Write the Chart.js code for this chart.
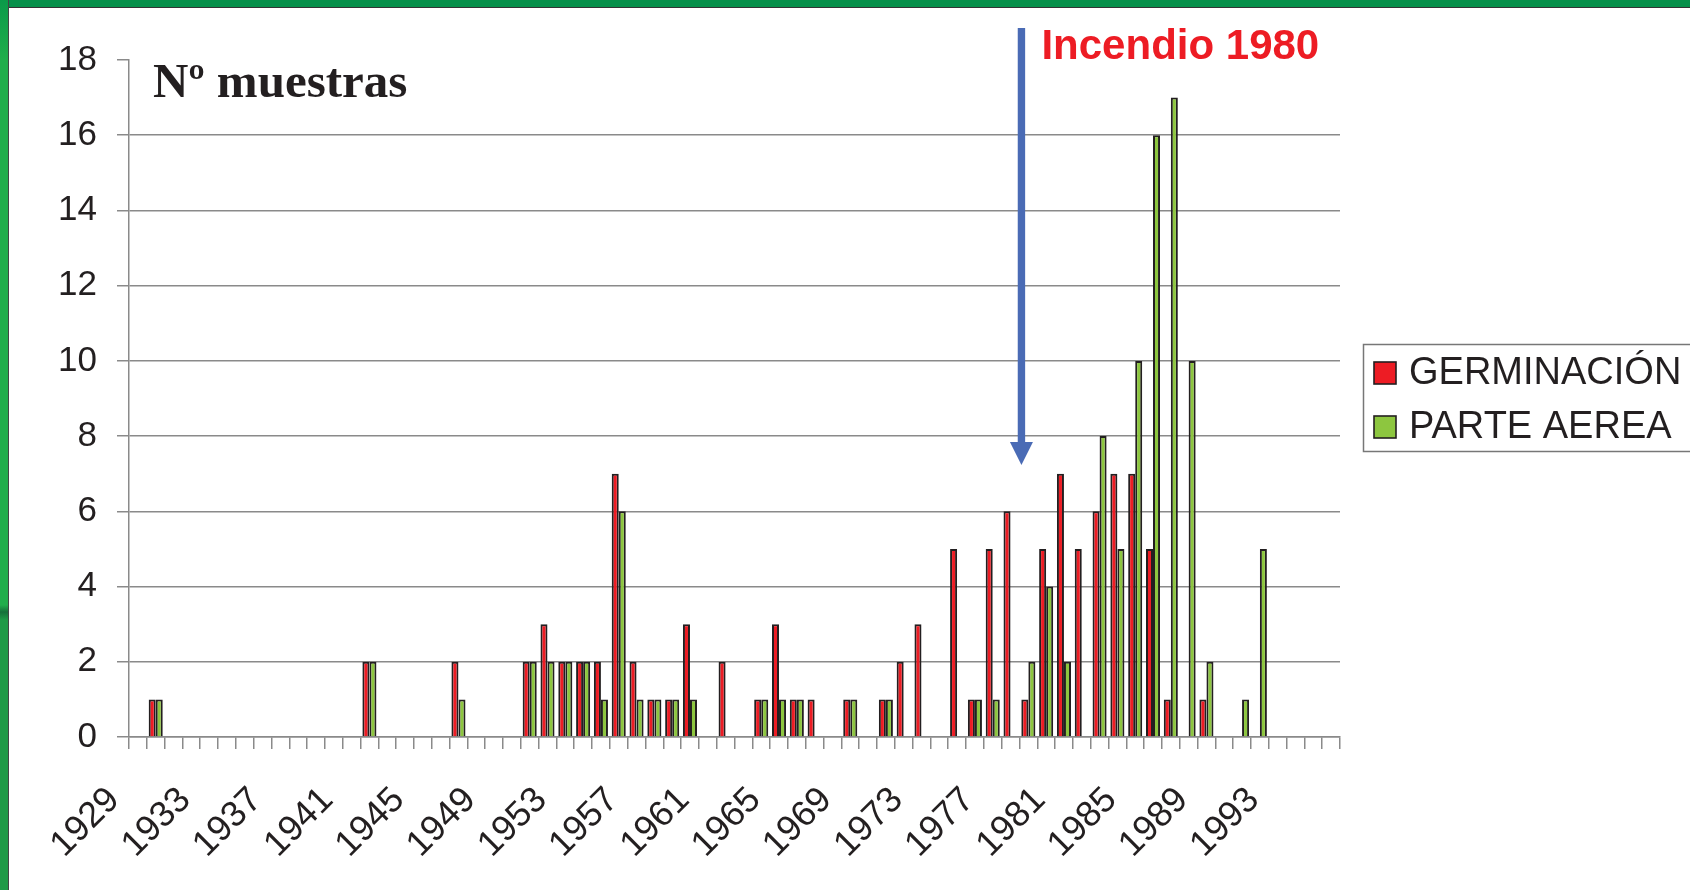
<!DOCTYPE html>
<html lang="es">
<head>
    <meta charset="UTF-8">
    <title>Nº muestras</title>
    <script src="https://cdn.jsdelivr.net/npm/chart.js@4.4.1/dist/chart.umd.min.js"></script>
    <style>
        html, body { margin: 0; padding: 0; background: #fff; }
        #wrap { position: relative; width: 1690px; height: 890px; overflow: hidden; background: #fff; }
        #topband { position: absolute; left: 0; top: 0; width: 1690px; height: 7px; background: #06904a; border-bottom: 1px solid #333; }
        #leftband { position: absolute; left: 0; top: 0; width: 8px; height: 890px; border-right: 1px solid #444;
            background: linear-gradient(to bottom, #0b9a49 0px, #21ae4b 60px, #21ae4b 605px, #16703a 612px, #1f9a46 620px, #1f9a46 890px); }
        #chart { position: absolute; left: 0; top: 0; }
    </style>
</head>
<body>
<div id="wrap">
    <div id="topband"></div>
    <div id="leftband"></div>
    <canvas id="chart" width="1690" height="890"></canvas>
</div>
<script>
    // years on the category axis (every 4th one is labelled)
    const years = [1929, 1930, 1931, 1932, 1933, 1934, 1935, 1936, 1937, 1938,
        1939, 1940, 1941, 1942, 1943, 1944, 1945, 1946, 1947, 1948,
        1949, 1950, 1951, 1952, 1953, 1954, 1955, 1956, 1957, 1958,
        1959, 1960, 1961, 1962, 1963, 1964, 1965, 1966, 1967, 1968,
        1969, 1970, 1971, 1972, 1973, 1974, 1975, 1976, 1977, 1978,
        1979, 1980, 1981, 1982, 1983, 1984, 1985, 1986, 1987, 1988,
        1989, 1990, 1991, 1992, 1993, 1994, 1995, 1996];

    const germinacion = [0, 1, 0, 0, 0, 0, 0, 0, 0, 0,
        0, 0, 0, 2, 0, 0, 0, 0, 2, 0,
        0, 0, 2, 3, 2, 2, 2, 7, 2, 1,
        1, 3, 0, 2, 0, 1, 3, 1, 1, 0,
        1, 0, 1, 2, 3, 0, 5, 1, 5, 6,
        1, 5, 7, 5, 6, 7, 7, 5, 1, 0,
        1, 0, 0, 0, 0, 0, 0, 0];

    const parteAerea = [0, 1, 0, 0, 0, 0, 0, 0, 0, 0,
        0, 0, 0, 2, 0, 0, 0, 0, 1, 0,
        0, 0, 2, 2, 2, 2, 1, 6, 1, 1,
        1, 1, 0, 0, 0, 1, 1, 1, 0, 0,
        1, 0, 1, 0, 0, 0, 0, 1, 1, 0,
        2, 4, 2, 0, 8, 5, 10, 16, 17, 10,
        2, 0, 1, 5, 0, 0, 0, 0];

    const yTicks = [0, 2, 4, 6, 8, 10, 12, 14, 16, 18];
    const fireYear = 1980;

    const RED = '#ed1c24';
    const GREEN = '#8dc63f';
    const INK = '#231f20';
    const GRID = '#8a8a8a';

    Chart.defaults.font.family = '"Liberation Sans", Arial, sans-serif';
    Chart.defaults.color = INK;

    // titles, arrow and the boxed legend drawn on top of the chart
    const extras = {
        id: 'extras',
        afterDraw(chart) {
            const ctx = chart.ctx;
            const xs = chart.scales.x;
            const step = (xs.right - xs.left) / years.length;
            ctx.save();

            ctx.fillStyle = INK;
            ctx.font = 'bold 49px "Liberation Serif", "Times New Roman", serif';
            ctx.textBaseline = 'alphabetic';
            ctx.fillText('Nº muestras', 153, 97);

            // arrow marking the fire
            const ax = xs.left + years.indexOf(fireYear - 1) * step + 2;
            ctx.fillStyle = '#4a6bb5';
            ctx.fillRect(ax - 3.7, 28, 7.4, 415);
            ctx.beginPath();
            ctx.moveTo(ax - 11.5, 442);
            ctx.lineTo(ax + 11.5, 442);
            ctx.lineTo(ax, 465);
            ctx.closePath();
            ctx.fill();

            ctx.fillStyle = RED;
            ctx.font = 'bold 42px "Liberation Sans", Arial, sans-serif';
            ctx.fillText('Incendio ' + fireYear, ax + 20, 59);

            // legend
            ctx.strokeStyle = '#777';
            ctx.lineWidth = 1.5;
            ctx.strokeRect(1363.5, 344.5, 400, 107);
            ctx.font = '38px "Liberation Sans", Arial, sans-serif';
            ctx.textBaseline = 'middle';
            chart.data.datasets.forEach((ds, i) => {
                const cy = 373 + i * 54;
                ctx.fillStyle = ds.backgroundColor;
                ctx.fillRect(1374, cy - 11, 22, 22);
                ctx.strokeStyle = INK;
                ctx.lineWidth = 1.6;
                ctx.strokeRect(1374, cy - 11, 22, 22);
                ctx.fillStyle = INK;
                ctx.fillText(ds.label, 1409, cy + 1);
            });
            ctx.restore();
        }
    };

    const nz = (arr) => arr.map(v => v === 0 ? null : v);

    new Chart(document.getElementById('chart'), {
        type: 'bar',
        data: {
            labels: years,
            datasets: [{
                label: 'GERMINACIÓN',
                data: nz(germinacion),
                backgroundColor: RED,
                borderColor: INK,
                borderWidth: 2
            }, {
                label: 'PARTE AEREA',
                data: nz(parteAerea),
                backgroundColor: GREEN,
                borderColor: INK,
                borderWidth: 2
            }]
        },
        options: {
            responsive: false,
            animation: false,
            devicePixelRatio: 1,
            categoryPercentage: 0.79,
            barPercentage: 1.0,
            layout: { padding: { left: 0, top: 60, right: 350, bottom: 0 } },
            plugins: {
                legend: { display: false },
                tooltip: { enabled: false }
            },
            scales: {
                x: {
                    offset: true,
                    grid: {
                        offset: true,
                        drawOnChartArea: false,
                        drawTicks: true,
                        tickLength: 12,
                        tickColor: GRID,
                        lineWidth: 1.5
                    },
                    border: { display: true, color: GRID, width: 1.5 },
                    ticks: {
                        autoSkip: false,
                        minRotation: 45,
                        maxRotation: 45,
                        padding: 30,
                        labelOffset: -24,
                        color: INK,
                        font: { size: 36 },
                        callback: function (value, index) {
                            return index % 4 === 0 ? String(years[index]) : '';
                        }
                    },
                    afterFit: (s) => { s.height = 153; }
                },
                y: {
                    min: 0,
                    max: 18,
                    afterBuildTicks: (s) => { s.ticks = yTicks.map(v => ({ value: v })); },
                    grid: {
                        color: (c) => (c.tick && c.tick.value === 18) ? 'rgba(0,0,0,0)' : GRID,
                        lineWidth: 1.5,
                        tickLength: 12,
                        tickColor: GRID
                    },
                    border: { display: true, color: GRID, width: 1.5 },
                    ticks: {
                        padding: 20,
                        color: INK,
                        font: { size: 35 }
                    },
                    afterFit: (s) => { s.width = 129; }
                }
            }
        },
        plugins: [extras]
    });
</script>
</body>
</html>
